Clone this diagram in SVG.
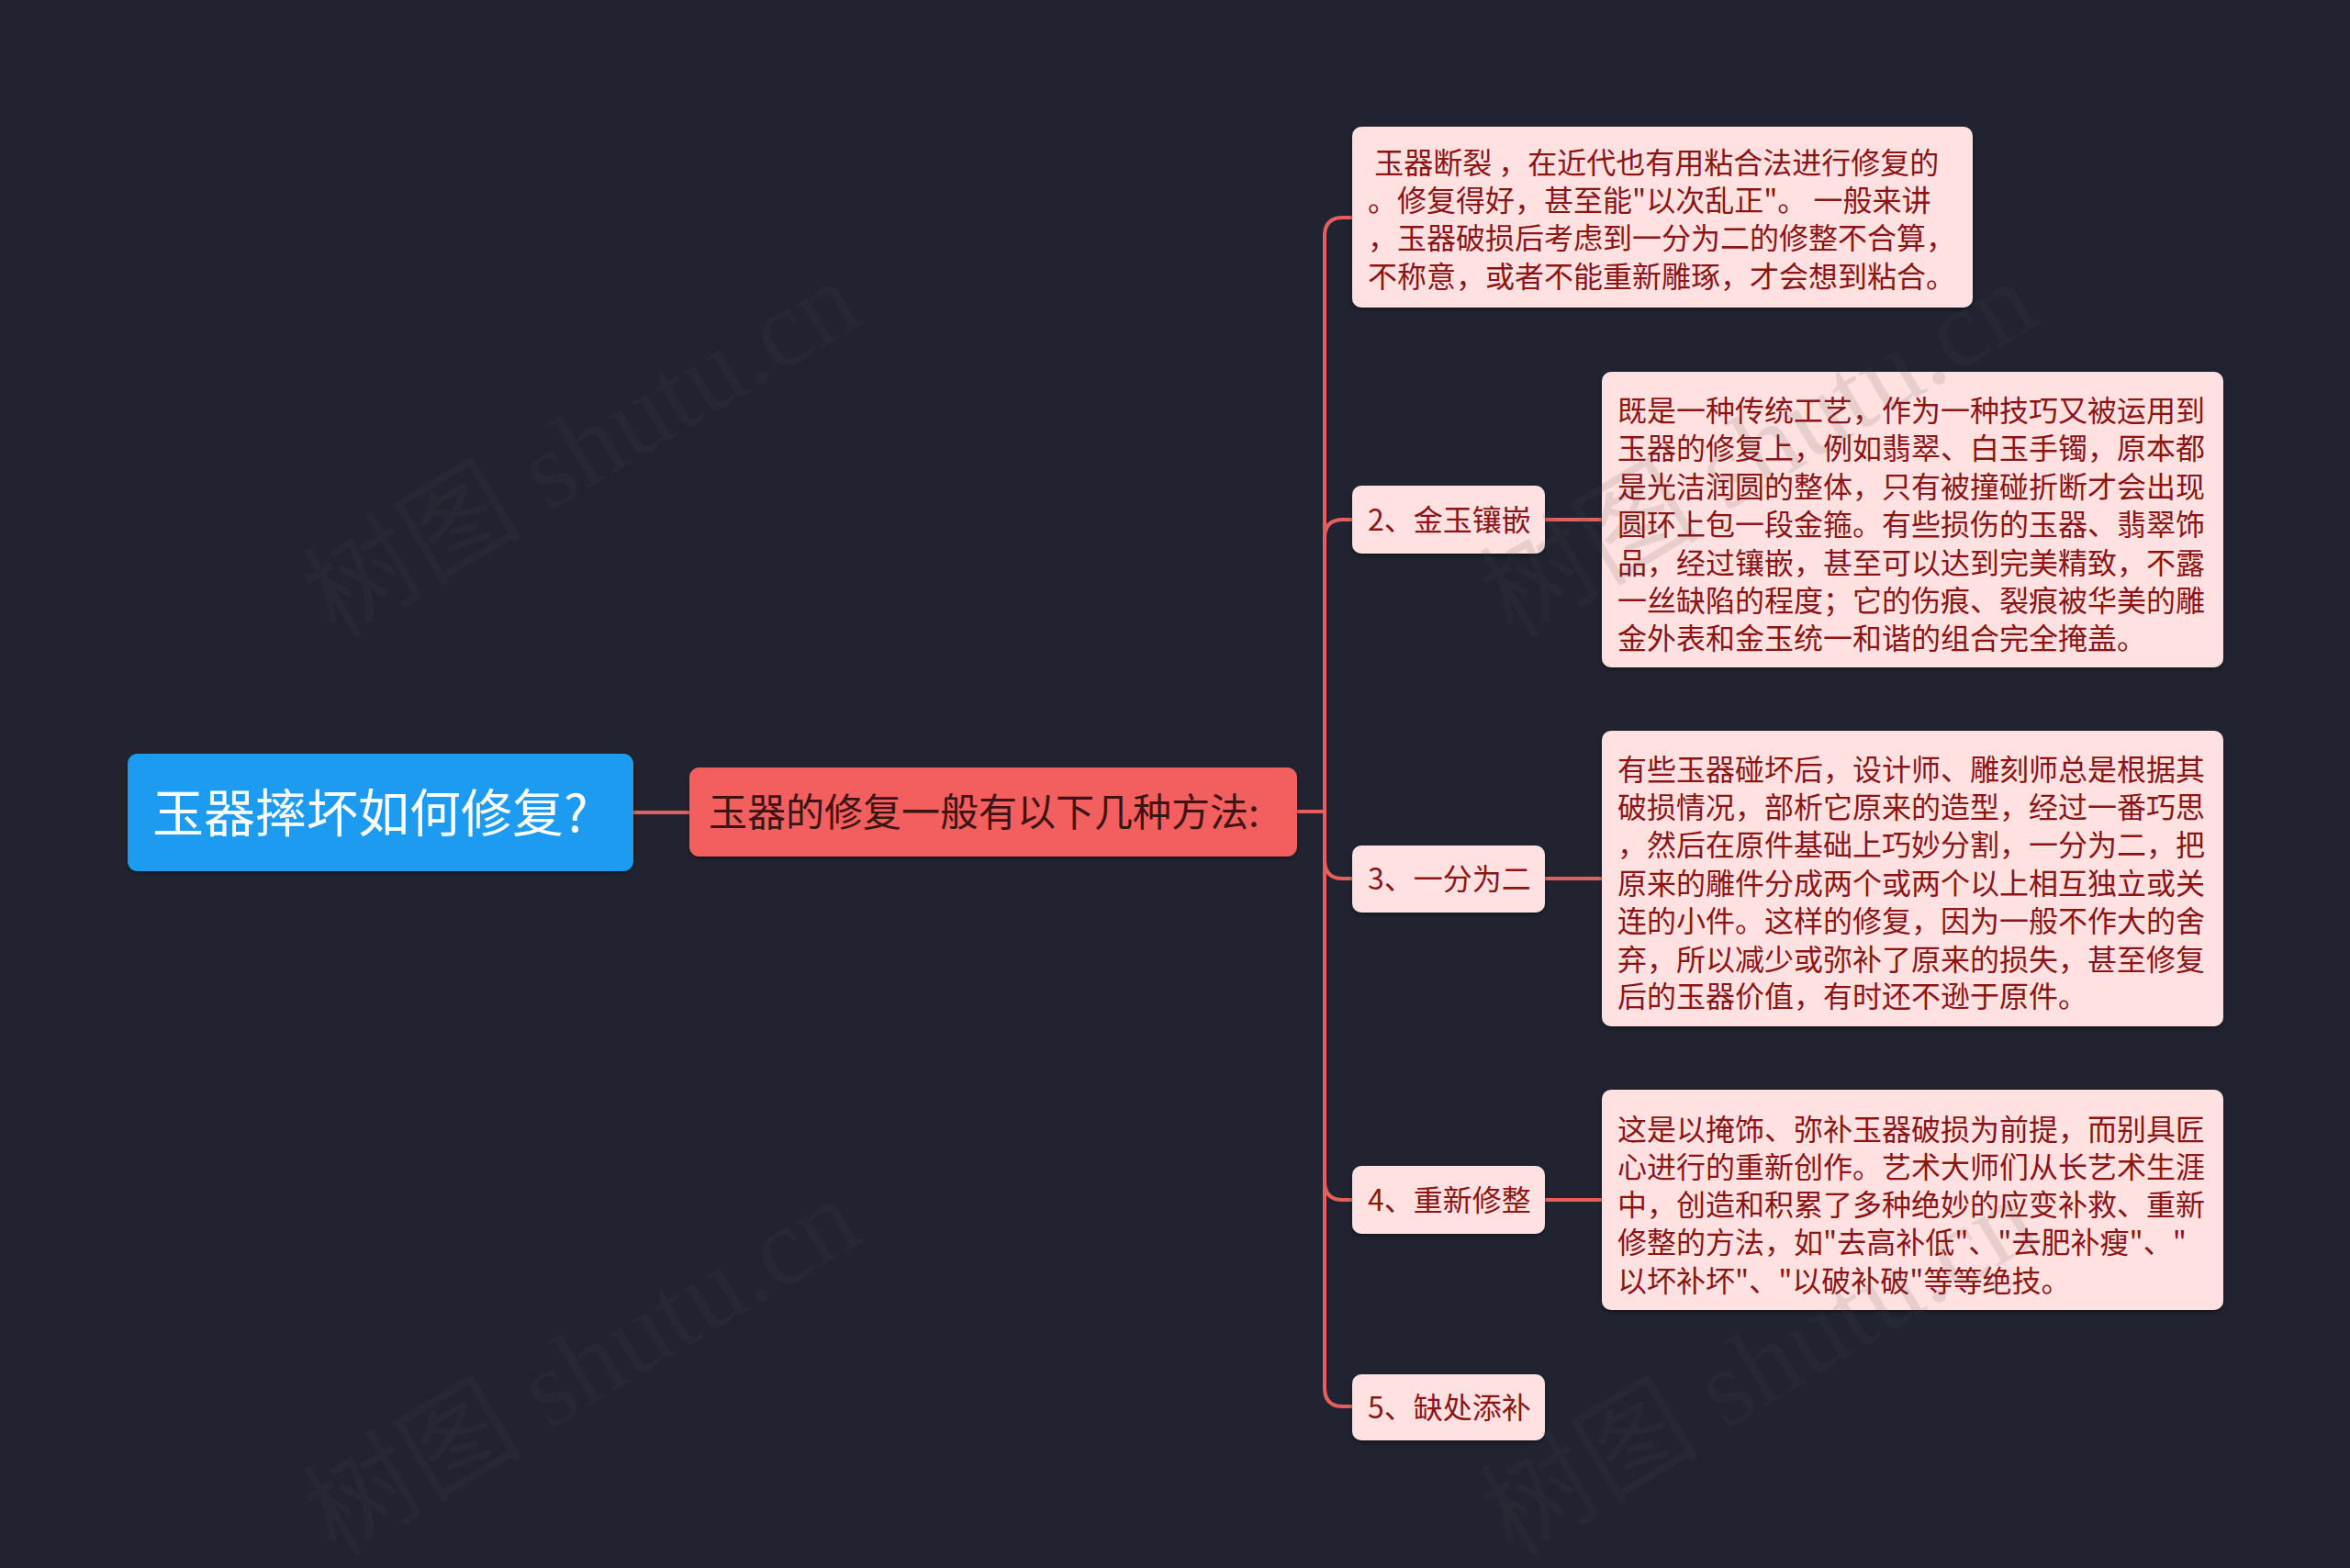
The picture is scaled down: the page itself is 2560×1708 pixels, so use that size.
<svg xmlns="http://www.w3.org/2000/svg" width="2560" height="1708" viewBox="0 0 2560 1708">
<defs>
<style>
.cn{font-family:"Noto Sans CJK SC","Noto Sans",sans-serif;}
.root-t{font-size:56px;fill:#ffffff;}
.main-t{font-size:42px;fill:#3e1313;}
.t{font-size:32px;fill:#8b1414;}
.pink{fill:#ffe1e1;}
.conn{fill:none;stroke:#e4605f;stroke-width:4;stroke-linecap:round;stroke-linejoin:round;}
.wm{font-size:120px;fill:#505050;fill-opacity:0.13;}
</style>
<filter id="sh" x="-5%" y="-10%" width="110%" height="130%">
<feDropShadow dx="0" dy="2" stdDeviation="2" flood-color="#000000" flood-opacity="0.45"/>
</filter>
</defs>
<rect x="0" y="0" width="2560" height="1708" fill="#212430"/>

<g id="connectors">
<path class="conn" d="M690 885 L751 885"/>
<path class="conn" d="M1413 884 L1443 884"/>
<path class="conn" d="M1473 237 L1463 237 Q1443 237 1443 257 L1443 1512 Q1443 1532 1463 1532 L1473 1532"/>
<path class="conn" d="M1443 586 Q1443 566 1463 566 L1473 566"/>
<path class="conn" d="M1443 937 Q1443 957 1463 957 L1473 957"/>
<path class="conn" d="M1443 1287 Q1443 1307 1463 1307 L1473 1307"/>
<path class="conn" d="M1683 566 L1745 566"/>
<path class="conn" d="M1683 957 L1745 957"/>
<path class="conn" d="M1683 1307 L1745 1307"/>
</g>

<g id="root">
<rect x="139" y="821" width="551" height="128" rx="11" fill="#1a9bf0" filter="url(#sh)"/>
<text class="cn root-t" x="166" y="906">玉器摔坏如何修复?</text>
</g>

<g id="main">
<rect x="751" y="836" width="662" height="97" rx="11" fill="#f35f5f" filter="url(#sh)"/>
<text class="cn main-t" x="772" y="900">玉器的修复一般有以下几种方法:</text>
</g>

<g id="detail1">
<rect class="pink" x="1473" y="138" width="676" height="197" rx="10" filter="url(#sh)"/>
<text class="cn t" xml:space="preserve"><tspan x="1490" y="189"> 玉器断裂 ，在近代也有用粘合法进行修复的</tspan><tspan x="1490" y="230">。修复得好，甚至能"以次乱正"。 一般来讲</tspan><tspan x="1490" y="271">，玉器破损后考虑到一分为二的修整不合算，</tspan><tspan x="1490" y="313">不称意，或者不能重新雕琢，才会想到粘合。</tspan></text>
</g>

<g id="label2">
<rect class="pink" x="1473" y="529" width="210" height="74" rx="10" filter="url(#sh)"/>
<text class="cn t" x="1490" y="578">2、金玉镶嵌</text>
</g>
<g id="detail2">
<rect class="pink" x="1745" y="405" width="677" height="322" rx="10" filter="url(#sh)"/>
<text class="cn t"><tspan x="1762" y="459">既是一种传统工艺，作为一种技巧又被运用到</tspan><tspan x="1762" y="500">玉器的修复上，例如翡翠、白玉手镯，原本都</tspan><tspan x="1762" y="542">是光洁润圆的整体，只有被撞碰折断才会出现</tspan><tspan x="1762" y="583">圆环上包一段金箍。有些损伤的玉器、翡翠饰</tspan><tspan x="1762" y="625">品，经过镶嵌，甚至可以达到完美精致，不露</tspan><tspan x="1762" y="666">一丝缺陷的程度；它的伤痕、裂痕被华美的雕</tspan><tspan x="1762" y="707">金外表和金玉统一和谐的组合完全掩盖。</tspan></text>
</g>

<g id="label3">
<rect class="pink" x="1473" y="921" width="210" height="73" rx="10" filter="url(#sh)"/>
<text class="cn t" x="1490" y="969">3、一分为二</text>
</g>
<g id="detail3">
<rect class="pink" x="1745" y="796" width="677" height="322" rx="10" filter="url(#sh)"/>
<text class="cn t"><tspan x="1762" y="850">有些玉器碰坏后，设计师、雕刻师总是根据其</tspan><tspan x="1762" y="891">破损情况，部析它原来的造型，经过一番巧思</tspan><tspan x="1762" y="932">，然后在原件基础上巧妙分割，一分为二，把</tspan><tspan x="1762" y="974">原来的雕件分成两个或两个以上相互独立或关</tspan><tspan x="1762" y="1015">连的小件。这样的修复，因为一般不作大的舍</tspan><tspan x="1762" y="1057">弃，所以减少或弥补了原来的损失，甚至修复</tspan><tspan x="1762" y="1097">后的玉器价值，有时还不逊于原件。</tspan></text>
</g>

<g id="label4">
<rect class="pink" x="1473" y="1270" width="210" height="74" rx="10" filter="url(#sh)"/>
<text class="cn t" x="1490" y="1319">4、重新修整</text>
</g>
<g id="detail4">
<rect class="pink" x="1745" y="1187" width="677" height="240" rx="10" filter="url(#sh)"/>
<text class="cn t"><tspan x="1762" y="1242">这是以掩饰、弥补玉器破损为前提，而别具匠</tspan><tspan x="1762" y="1283">心进行的重新创作。艺术大师们从长艺术生涯</tspan><tspan x="1762" y="1324">中，创造和积累了多种绝妙的应变补救、重新</tspan><tspan x="1762" y="1365">修整的方法，如"去高补低"、"去肥补瘦"、"</tspan><tspan x="1762" y="1407">以坏补坏"、"以破补破"等等绝技。</tspan></text>
</g>

<g id="label5">
<rect class="pink" x="1473" y="1497" width="210" height="72" rx="10" filter="url(#sh)"/>
<text class="cn t" x="1490" y="1545">5、缺处添补</text>
</g>

<g id="watermarks" font-family="'Liberation Serif','Noto Sans CJK SC',serif">
<text class="wm" transform="translate(366 697) rotate(-31)">树图 shutu.cn</text>
<text class="wm" transform="translate(366 1697) rotate(-31)">树图 shutu.cn</text>
<text class="wm" transform="translate(1648 697) rotate(-31)">树图 shutu.cn</text>
<text class="wm" transform="translate(1648 1697) rotate(-31)">树图 shutu.cn</text>
</g>
</svg>
